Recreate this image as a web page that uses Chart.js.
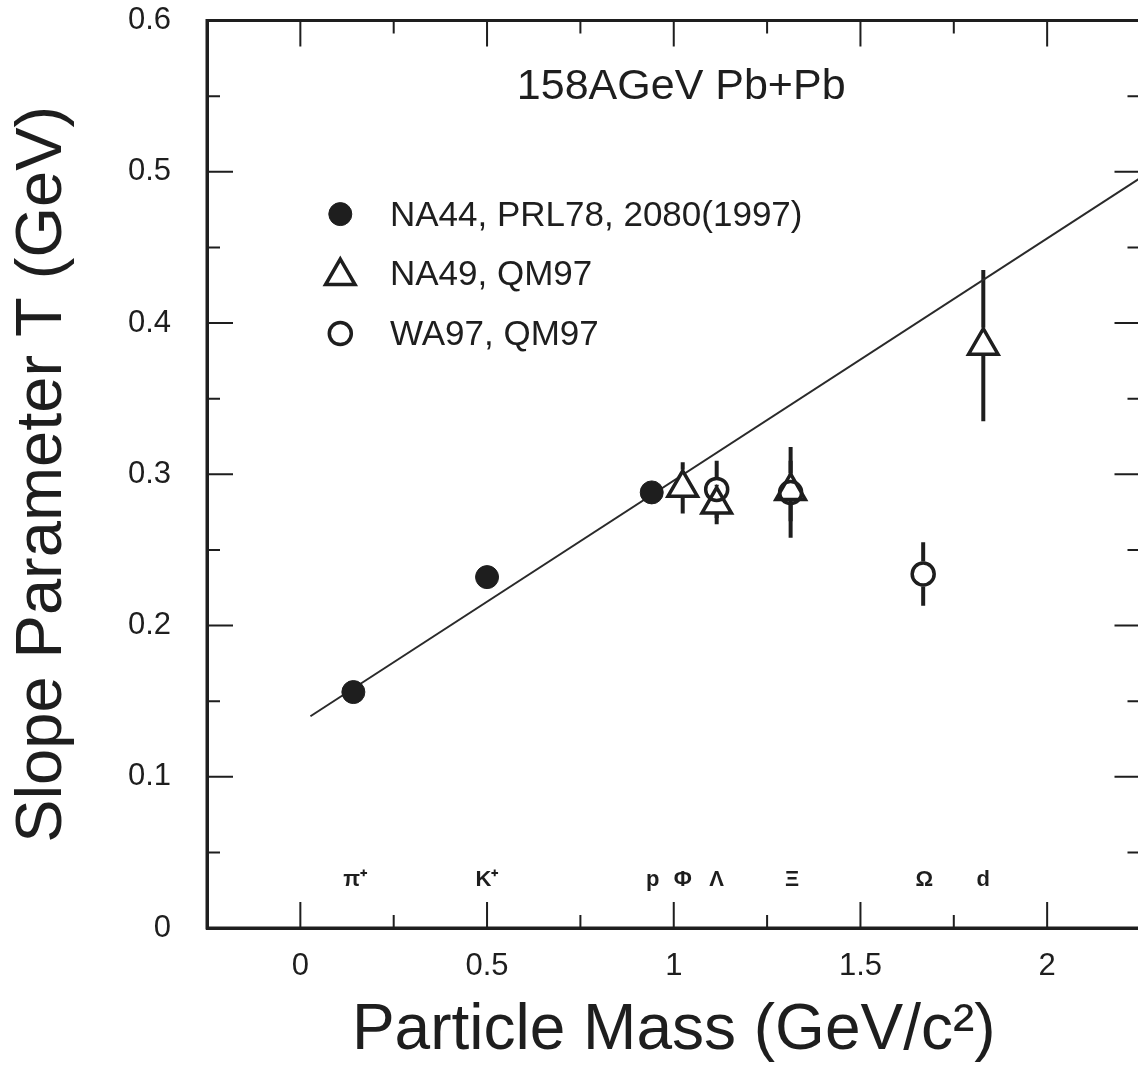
<!DOCTYPE html>
<html>
<head>
<meta charset="utf-8">
<script src="https://cdn.jsdelivr.net/npm/chart.js@4.4.1/dist/chart.umd.min.js"></script>
<style>
html,body{margin:0;padding:0;background:#fff;overflow:hidden;}
#wrap{width:1161px;height:1070px;}
</style>
</head>
<body>
<div id="wrap"><canvas id="c" width="1161" height="1070"></canvas></div>
<script>
// ---------- data ----------
const na44Mass = [0.142, 0.500, 0.941];
const na44T    = [0.156, 0.232, 0.288];
const na44Err  = [0, 0, 0];

const na49Mass = [1.024, 1.115, 1.313, 1.829];
const na49T    = [0.291, 0.280, 0.289, 0.385];
const na49Err  = [0.017, 0.013, 0.020, 0.050];

const wa97Mass = [1.115, 1.313, 1.668];
const wa97T    = [0.290, 0.288, 0.234];
const wa97Err  = [0.019, 0.030, 0.021];

const fitMass = [0.027, 2.25];
const fitT    = [0.140, 0.496];

const particleNames = ['π⁺', 'K⁺', 'p', 'Φ', 'Λ', 'Ξ', 'Ω', 'd'];
const particleMass  = [0.147, 0.500, 0.944, 1.024, 1.115, 1.317, 1.671, 1.829];
const particleLabelT = 0.032;

const xTickValues = [-0.25, 0, 0.25, 0.5, 0.75, 1, 1.25, 1.5, 1.75, 2, 2.25];
const xTickLabels = ['', '0', '', '0.5', '', '1', '', '1.5', '', '2', ''];
const xMajor = [0, 0.5, 1, 1.5, 2];
const xMinor = [0.25, 0.75, 1.25, 1.75];
const yTickValues = [0, 0.1, 0.2, 0.3, 0.4, 0.5, 0.6];
const yTickLabels = ['0', '0.1', '0.2', '0.3', '0.4', '0.5', '0.6'];
const yMajor = [0.1, 0.2, 0.3, 0.4, 0.5];
const yMinor = [0.05, 0.15, 0.25, 0.35, 0.45, 0.55];

const legendLabels = ['NA44, PRL78, 2080(1997)', 'NA49, QM97', 'WA97, QM97'];
const plotTitle = '158AGeV Pb+Pb';
const xTitle = 'Particle Mass (GeV/c²)';
const yTitle = 'Slope Parameter T (GeV)';

// ---------- styles ----------
const INK = '#1e1e1e';
const FONT = '"Liberation Sans", Arial, Helvetica, sans-serif';
const styles = [
  {pointStyle:'circle', radius:11.5, bg:INK, border:INK, bw:1, up:11.5, down:11.5},
  {pointStyle:'triangle', radius:17, bg:'#fff', border:INK, bw:3.5, up:18, down:9.5},
  {pointStyle:'circle', radius:11, bg:'rgba(0,0,0,0)', border:INK, bw:3.5, up:12.5, down:12.5}
];

const toPts = (xs, ys) => xs.map((m, i) => ({x: m, y: ys[i]}));
const series = [
  {mass: na44Mass, t: na44T, err: na44Err},
  {mass: na49Mass, t: na49T, err: na49Err},
  {mass: wa97Mass, t: wa97T, err: wa97Err}
];

const overlay = {
  id: 'overlay',
  beforeDatasetsDraw(chart) {
    const {ctx, chartArea: a, scales: {x, y}} = chart;
    ctx.save();
    ctx.beginPath(); ctx.rect(a.left, a.top, a.right - a.left, a.bottom - a.top); ctx.clip();
    ctx.strokeStyle = INK; ctx.lineWidth = 4; ctx.lineCap = 'butt';
    series.forEach((s, k) => {
      const st = styles[k];
      s.mass.forEach((m, i) => {
        const e = s.err[i]; if (!e) return;
        const px = x.getPixelForValue(m);
        const py = y.getPixelForValue(s.t[i]);
        const top = y.getPixelForValue(s.t[i] + e);
        const bot = y.getPixelForValue(s.t[i] - e);
        ctx.beginPath();
        if (top < py - st.up) { ctx.moveTo(px, top); ctx.lineTo(px, py - st.up); }
        if (bot > py + st.down) { ctx.moveTo(px, py + st.down); ctx.lineTo(px, bot); }
        ctx.stroke();
      });
    });
    ctx.restore();
  },
  afterDraw(chart) {
    const {ctx, chartArea: a, scales: {x, y}} = chart;
    ctx.save();
    // frame
    ctx.strokeStyle = INK; ctx.lineWidth = 3;
    ctx.strokeRect(a.left, a.top, a.right - a.left, a.bottom - a.top);
    // inward ticks
    ctx.lineWidth = 2;
    const tick = (vals, len, horiz) => {
      vals.forEach(v => {
        ctx.beginPath();
        if (horiz) {
          const px = x.getPixelForValue(v);
          ctx.moveTo(px, a.bottom); ctx.lineTo(px, a.bottom - len);
          ctx.moveTo(px, a.top); ctx.lineTo(px, a.top + len);
        } else {
          const py = y.getPixelForValue(v);
          ctx.moveTo(a.left, py); ctx.lineTo(a.left + len, py);
          ctx.moveTo(a.right, py); ctx.lineTo(a.right - len, py);
        }
        ctx.stroke();
      });
    };
    tick(xMajor, 26, true); tick(xMinor, 13, true);
    tick(yMajor, 26, false); tick(yMinor, 13, false);
    // title
    ctx.fillStyle = INK;
    ctx.textAlign = 'center'; ctx.textBaseline = 'middle';
    ctx.font = '43px ' + FONT;
    ctx.fillText(plotTitle, x.getPixelForValue(1.02), y.getPixelForValue(0.556));
    // particle labels
    ctx.font = 'bold 22px ' + FONT;
    particleNames.forEach((n, i) => {
      ctx.fillText(n, x.getPixelForValue(particleMass[i]), y.getPixelForValue(particleLabelT));
    });
    // legend
    ctx.font = '35px ' + FONT; ctx.textAlign = 'left';
    const lx = x.getPixelForValue(0.107), tx = x.getPixelForValue(0.24);
    const legT = [0.472, 0.433, 0.393];
    legendLabels.forEach((lab, i) => {
      const ly = y.getPixelForValue(legT[i]);
      const st = styles[i];
      ctx.fillStyle = st.bg;
      ctx.strokeStyle = st.border; ctx.lineWidth = st.bw;
      Chart.helpers.drawPoint(ctx, {pointStyle: st.pointStyle, radius: st.radius, rotation: 0, borderWidth: st.bw}, lx, ly + (st.pointStyle === 'triangle' ? 3 : 0));
      ctx.fillStyle = INK;
      ctx.fillText(lab, tx, ly + 2);
    });
    ctx.restore();
  }
};

const ds = series.map((s, k) => ({
  type: 'scatter',
  data: toPts(s.mass, s.t),
  pointStyle: styles[k].pointStyle,
  pointRadius: styles[k].radius,
  pointHoverRadius: styles[k].radius,
  backgroundColor: styles[k].bg,
  borderColor: styles[k].border,
  borderWidth: styles[k].bw,
  order: 3 - k
}));
ds.push({
  type: 'line',
  data: toPts(fitMass, fitT),
  borderColor: '#2a2a2a',
  borderWidth: 2,
  pointRadius: 0,
  fill: false,
  order: 10
});

const zeroPad = s => { s.paddingTop = 0; s.paddingBottom = 0; s.paddingLeft = 0; s.paddingRight = 0; };

new Chart(document.getElementById('c'), {
  data: {datasets: ds},
  plugins: [overlay],
  options: {
    responsive: false,
    animation: false,
    devicePixelRatio: 1,
    layout: {padding: {top: 19, right: 0, left: 0, bottom: 0}},
    plugins: {legend: {display: false}, tooltip: {enabled: false}},
    scales: {
      x: {
        type: 'linear', min: -0.25, max: 2.25,
        afterBuildTicks: s => { s.ticks = xTickValues.map(v => ({value: v})); },
        afterFit: s => { s.height = 142; zeroPad(s); },
        ticks: {
          autoSkip: false, maxRotation: 0, padding: 20, color: INK,
          font: {family: FONT, size: 31},
          callback: (v) => { const i = xTickValues.findIndex(t => Math.abs(t - v) < 1e-6); return i >= 0 ? xTickLabels[i] : ''; }
        },
        grid: {drawOnChartArea: false, drawTicks: false},
        border: {display: true, width: 3, color: INK},
        title: {display: true, text: xTitle, color: INK, font: {family: FONT, size: 64, lineHeight: 1.2}, padding: {top: 22, bottom: 0}}
      },
      y: {
        type: 'linear', min: 0, max: 0.6,
        afterBuildTicks: s => { s.ticks = yTickValues.map(v => ({value: v})); },
        afterFit: s => { s.width = 207; zeroPad(s); },
        ticks: {
          autoSkip: false, padding: 36, color: INK,
          font: {family: FONT, size: 31},
          callback: (v) => { const i = yTickValues.findIndex(t => Math.abs(t - v) < 1e-6); return i >= 0 ? yTickLabels[i] : ''; }
        },
        grid: {drawOnChartArea: false, drawTicks: false},
        border: {display: true, width: 3, color: INK},
        title: {display: true, text: yTitle, color: INK, font: {family: FONT, size: 65, lineHeight: 1.2}, padding: {top: 4, bottom: 0}}
      }
    }
  }
});
</script>
</body>
</html>
